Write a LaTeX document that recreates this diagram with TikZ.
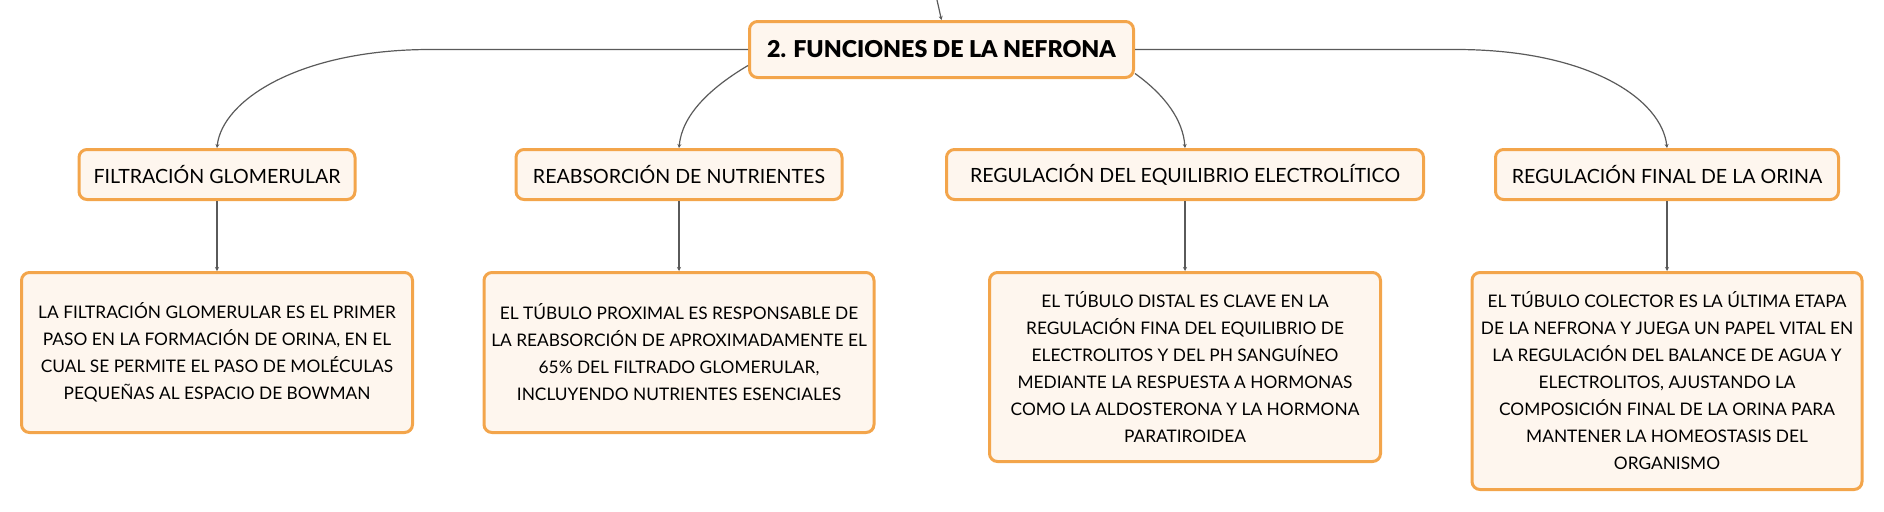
\documentclass[tikz,border=0pt]{standalone}
\usepackage{fontspec}
\setmainfont{Lato}
\newfontfamily\titlefont{Lato Black}
\usetikzlibrary{arrows.meta}
\usepackage{xcolor}
\definecolor{boxorange}{HTML}{F3A54B}
\definecolor{boxcream}{HTML}{FEF6EE}
\definecolor{linkgray}{HTML}{5A5A5A}
\tikzset{
  topicbox/.style={draw=boxorange, fill=boxcream, line width=1.5pt, rounded corners=4pt,
    align=center, inner sep=0pt, font=\fontsize{9.8}{13.5}\selectfont},
  notebox/.style={topicbox, font=\fontsize{8.65}{13.5}\selectfont},
  link/.style={draw=linkgray, line width=0.6pt, -{Stealth[length=2pt,width=2pt]}},
}

\begin{document}
\begin{tikzpicture}[x=0.5pt,y=-0.5pt]
        \useasboundingbox (0,0) rectangle (1884,511);

        % Title
        \node[topicbox, minimum width=192pt, minimum height=28pt,
          font=\fontsize{11.6}{14}\titlefont] (title) at (941.5,49.5) {2. FUNCIONES DE LA NEFRONA};
        \coordinate (parent) at (937,0);
        \draw[link] (parent) -- (title.north);

        % Functions
        \node[topicbox, minimum width=138pt, minimum height=25pt] (filt) at (217,174.5) {FILTRACIÓN GLOMERULAR};
        \node[topicbox, minimum width=163pt, minimum height=25pt] (reab) at (679,174.5) {REABSORCIÓN DE NUTRIENTES};
        \node[topicbox, minimum width=238.5pt, minimum height=25pt] (equi) at (1185,174.5) {REGULACIÓN DEL EQUILIBRIO ELECTROLÍTICO};
        \node[topicbox, minimum width=171.5pt, minimum height=25pt] (final) at (1667,174.5) {REGULACIÓN FINAL DE LA ORINA};

        % Details
        \node[notebox, minimum width=195.5pt, minimum height=80pt] (det1) at (217,352.5)
          {LA FILTRACIÓN GLOMERULAR ES EL PRIMER\\PASO EN LA FORMACIÓN DE ORINA, EN EL\\CUAL SE PERMITE EL PASO DE MOLÉCULAS\\PEQUEÑAS AL ESPACIO DE BOWMAN};
        \node[notebox, minimum width=195pt, minimum height=80pt] (det2) at (679,352.5)
          {EL TÚBULO PROXIMAL ES RESPONSABLE DE\\LA REABSORCIÓN DE APROXIMADAMENTE EL\\65\% DEL FILTRADO GLOMERULAR,\\INCLUYENDO NUTRIENTES ESENCIALES};
        \node[notebox, minimum width=195.5pt, minimum height=94.5pt] (det3) at (1185,367)
          {EL TÚBULO DISTAL ES CLAVE EN LA\\REGULACIÓN FINA DEL EQUILIBRIO DE\\ELECTROLITOS Y DEL PH SANGUÍNEO\\MEDIANTE LA RESPUESTA A HORMONAS\\COMO LA ALDOSTERONA Y LA HORMONA\\PARATIROIDEA};
        \node[notebox, minimum width=195pt, minimum height=108.5pt] (det4) at (1667,381)
          {EL TÚBULO COLECTOR ES LA ÚLTIMA ETAPA\\DE LA NEFRONA Y JUEGA UN PAPEL VITAL EN\\LA REGULACIÓN DEL BALANCE DE AGUA Y\\ELECTROLITOS, AJUSTANDO LA\\COMPOSICIÓN FINAL DE LA ORINA PARA\\MANTENER LA HOMEOSTASIS DEL\\ORGANISMO};

        % Links from title
        \draw[link] (title.west) -- (430,49.5) .. controls (300,49.5) and (222,100) .. (filt.north);
        \draw[link] ([yshift=-8pt]title.west) .. controls (710,88) and (682,115) .. (reab.north);
        \draw[link] ([yshift=-12pt]title.east) .. controls (1165,95) and (1183,120) .. (equi.north);
        \draw[link] (title.east) -- (1456,49.5) .. controls (1590,49.5) and (1662,100) .. (final.north);

        % Links to details
        \foreach \a/\b in {filt/det1, reab/det2, equi/det3, final/det4}
        {
          \draw[link] (\a.south) -- (\b.north);
        }
\end{tikzpicture}
\end{document}
